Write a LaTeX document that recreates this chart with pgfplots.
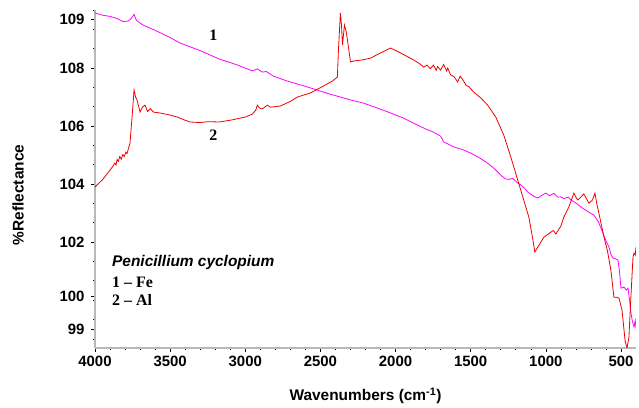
\documentclass[border=0pt]{standalone}
\usepackage{fontspec}
\setmainfont{Liberation Sans}
\newfontfamily\seriffont[Ligatures=TeX]{Liberation Serif}
\usepackage{pgfplots}
\pgfplotsset{compat=1.18}
\definecolor{mag}{RGB}{255,0,255}
\definecolor{rd}{RGB}{240,0,0}
\begin{document}
\begin{tikzpicture}
\path[use as bounding box] (-95bp,-60bp) rectangle (544bp,348bp);
\begin{axis}[
 at={(0,0)}, anchor=south west,
 scale only axis, width=541bp, height=338bp,
 xmin=400, xmax=4000, ymin=98.35, ymax=110,
 x dir=reverse,
 axis x line*=bottom, axis y line*=left,
 axis line style={gray!55, line width=1.6bp},
 tick style={black, line width=0.6bp},
 major tick length=4bp, minor tick length=2.2bp,
 tick align=outside,
 xtick={500,1000,1500,2000,2500,3000,3500,4000},
 xticklabels={500,1000,1500,2000,2500,3000,3500,4000},
 minor x tick num=4,
 ytick={99,100.14,102,104,106,108,109.6667},
 yticklabels={99,100,102,104,106,108,109},
 minor ytick={98.6667,99.3333,...,110},
 ticklabel style={font=\fontsize{15}{18}\selectfont\bfseries},
 yticklabel style={xshift=-3bp},
 xticklabel style={yshift=-1bp},
 xlabel={Wavenumbers (cm\textsuperscript{-1})},
 ylabel={\%Reflectance},
 label style={font=\fontsize{15.5}{18}\selectfont\bfseries},
 xlabel style={at={(axis description cs:0.5,-0.142)}, anchor=center},
 ylabel style={at={(axis description cs:-0.142,0.453)}, anchor=center, rotate=0},
 clip=true,
]
\addplot[mag, line width=0.8bp] coordinates {
(4000,109.90) (3950,109.82) (3900,109.78) (3850,109.70) (3813,109.60) (3780,109.62)
(3760,109.70) (3740,109.85) (3725,109.65) (3700,109.55) (3680,109.48) (3600,109.30)
(3500,109.05) (3433,108.86) (3300,108.60) (3173,108.31) (3050,108.10) (2953,107.90)
(2920,107.97) (2887,107.86) (2860,107.88) (2813,107.72) (2720,107.55) (2620,107.40)
(2520,107.24) (2450,107.12) (2367,107.00) (2300,106.90) (2213,106.79) (2120,106.62)
(2033,106.45) (1950,106.28) (1880,106.10) (1800,105.90) (1747,105.79) (1700,105.65)
(1680,105.45) (1650,105.38) (1613,105.28) (1560,105.20) (1500,105.07) (1440,104.90)
(1387,104.72) (1340,104.52) (1300,104.31) (1270,104.18) (1245,104.16) (1220,104.20)
(1190,104.05) (1167,103.97) (1140,103.85) (1120,103.72) (1080,103.58) (1053,103.52)
(1025,103.62) (1000,103.69) (975,103.60) (947,103.68) (920,103.55) (900,103.56)
(880,103.50) (850,103.55) (833,103.45) (800,103.35) (767,103.21) (720,103.05)
(680,102.93) (650,102.70) (620,102.31) (600,102.05) (580,101.83) (565,101.55)
(553,101.45) (535,101.42) (520,101.38) (510,101.00) (500,100.41) (480,100.45)
(465,100.35) (453,100.41) (443,100.00) (433,99.55) (425,99.30) (413,99.07)
(405,99.30) (400,99.05)
};
\addplot[rd, line width=0.8bp] coordinates {
(4000,103.90) (3950,104.15) (3900,104.48) (3880,104.62) (3870,104.72) (3860,104.66)
(3853,104.85) (3845,104.78) (3835,104.95) (3825,104.86) (3815,105.02) (3805,104.95)
(3795,105.10) (3787,105.05) (3767,105.41) (3755,106.20) (3740,107.24) (3730,107.00)
(3720,106.90) (3700,106.48) (3685,106.65) (3667,106.72) (3650,106.50) (3633,106.60)
(3610,106.48) (3567,106.45) (3500,106.38) (3453,106.31) (3400,106.20) (3367,106.14)
(3300,106.12) (3250,106.15) (3173,106.14) (3100,106.20) (3000,106.31) (2953,106.41)
(2930,106.55) (2920,106.72) (2905,106.62) (2887,106.59) (2853,106.72) (2833,106.65)
(2767,106.69) (2700,106.85) (2653,107.00) (2567,107.14) (2480,107.38) (2420,107.55)
(2387,107.69) (2380,108.62) (2367,109.90) (2360,109.50) (2353,108.79) (2340,109.48)
(2330,109.30) (2320,108.97) (2300,108.21) (2280,108.24) (2220,108.28) (2167,108.34)
(2100,108.52) (2033,108.69) (1967,108.52) (1880,108.28) (1840,108.15) (1813,108.03)
(1790,108.10) (1770,107.98) (1747,108.10) (1730,107.92) (1720,108.05) (1700,107.93)
(1680,108.12) (1660,107.90) (1653,108.00) (1633,107.76) (1610,107.70) (1587,107.52)
(1570,107.72) (1553,107.60) (1530,107.40) (1510,107.35) (1480,107.17) (1433,106.97)
(1387,106.72) (1333,106.31) (1280,105.69) (1233,104.93) (1187,104.14) (1147,103.45)
(1113,102.86) (1090,102.20) (1073,101.66) (1045,101.90) (1013,102.17) (967,102.34)
(950,102.40) (933,102.28) (900,102.55) (880,102.86) (847,103.21) (813,103.69)
(800,103.55) (787,103.45) (747,103.66) (713,103.34) (690,103.45) (673,103.69)
(660,103.30) (647,103.00) (613,102.17) (590,101.70) (567,101.03) (547,100.10)
(530,100.10) (513,100.07) (493,99.66) (473,98.62) (460,98.34) (447,98.72)
(435,100.00) (420,101.48) (413,101.62) (405,101.55) (400,101.83)
};
\node[font=\fontsize{16}{18}\selectfont\seriffont\bfseries] at (axis cs:3213,109.14) {1};
\node[font=\fontsize{16}{18}\selectfont\seriffont\bfseries] at (axis cs:3213,105.69) {2};
\node[anchor=west, inner sep=0pt, font=\fontsize{15.5}{18}\selectfont\bfseries\itshape] at (axis cs:3887,101.31) {Penicillium cyclopium};
\node[anchor=west, inner sep=0pt, font=\fontsize{16}{18}\selectfont\seriffont\bfseries] at (axis cs:3887,100.62) {1 \textendash{} Fe};
\node[anchor=west, inner sep=0pt, font=\fontsize{16}{18}\selectfont\seriffont\bfseries] at (axis cs:3887,100.0) {2 \textendash{} Al};
\end{axis}
\end{tikzpicture}
\end{document}
